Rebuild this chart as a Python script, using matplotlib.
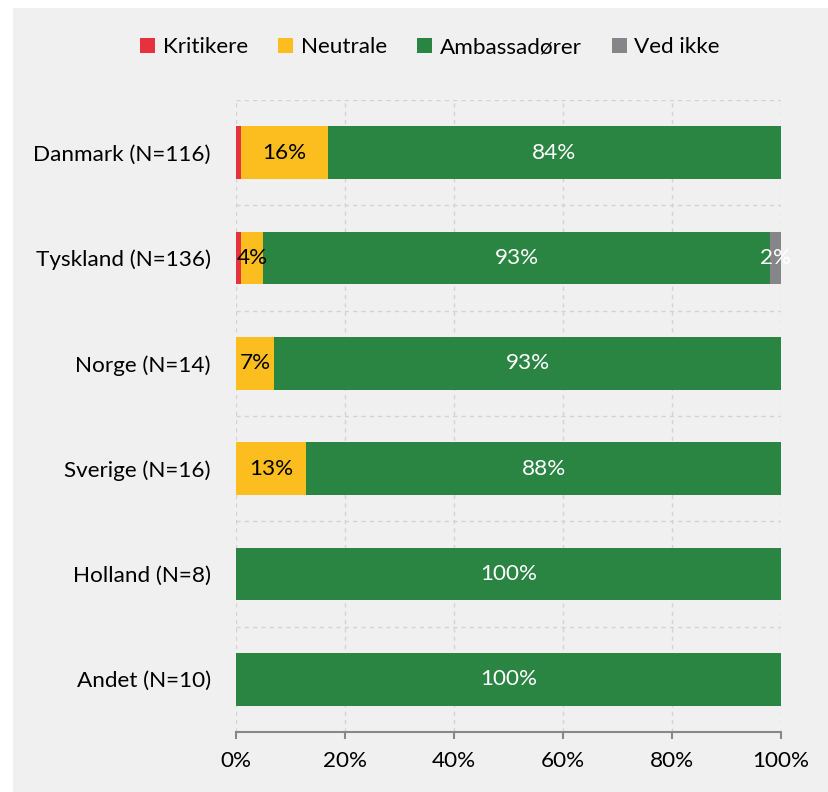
import numpy as np
import matplotlib.pyplot as plt
from matplotlib.patches import Rectangle, Patch

plt.rcParams['font.family'] = ['Lato', 'DejaVu Sans']

Lande = ['Danmark (N=116)', 'Tyskland (N=136)', 'Norge (N=14)',
         'Sverige (N=16)', 'Holland (N=8)', 'Andet (N=10)']
Kritikere = [1, 1, 0, 0, 0, 0]
Neutrale = [16, 4, 7, 13, 0, 0]
Ambassadorer = [84, 93, 93, 88, 100, 100]
VedIkke = [0, 2, 0, 0, 0, 0]

Serier = ['Kritikere', 'Neutrale', 'Ambassadører', 'Ved ikke']
Farver = ['#E6323F', '#FBBE1E', '#2A8442', '#86868A']
TekstFarver = [None, 'black', 'white', 'white']  # kritikere vises uden tal

data = np.array([Kritikere, Neutrale, Ambassadorer, VedIkke], dtype=float)
andel = data / data.sum(0)  # 100% stablet som i Excel

fs = 16.2

fig = plt.figure(figsize=(8.29, 7.92), dpi=100)
fig.patches.append(Rectangle((13 / 829, 0), 1, 1 - 8 / 792, transform=fig.transFigure,
                             facecolor='#F0F0F0', edgecolor='none', zorder=-10))
ax = fig.add_axes([236 / 829, 1 - 732 / 792, 545 / 829, 632 / 792])
ax.set_facecolor('none')

y = np.arange(len(Lande))
venstre = np.zeros(len(Lande))
for i in range(len(Serier)):
    ax.barh(y, andel[i], left=venstre, height=0.5, color=Farver[i], zorder=3)
    if TekstFarver[i] is not None:
        for j in range(len(Lande)):
            if data[i, j] > 0:
                ax.text(venstre[j] + andel[i, j] / 2, y[j], '%d%%' % data[i, j],
                        ha='center', va='center', color=TekstFarver[i],
                        fontsize=fs, zorder=4)
    venstre = venstre + andel[i]

ax.set_xlim(0, 1)
ax.set_ylim(len(Lande) - 0.5, -0.5)
ax.set_yticks(y)
ax.set_yticklabels(Lande, fontsize=fs)
ax.set_xticks(np.linspace(0, 1, 6))
ax.set_xticklabels(['0%', '20%', '40%', '60%', '80%', '100%'], fontsize=fs)
ax.tick_params(axis='y', length=0, pad=18)
ax.tick_params(axis='x', length=5, width=1.5, color='#888888', pad=9)

for k in ['top', 'left', 'right']:
    ax.spines[k].set_visible(False)
ax.spines['bottom'].set_color('#888888')
ax.spines['bottom'].set_linewidth(1.5)

for xv in np.linspace(0, 1, 6):
    ax.axvline(xv, color='#D3D3D3', linestyle=(0, (3, 3)), linewidth=1, zorder=1)
for yv in np.arange(-0.5, len(Lande) - 1, 1):
    ax.axhline(yv, color='#D3D3D3', linestyle=(0, (3, 3)), linewidth=1, zorder=1)

handles = [Patch(facecolor=c, edgecolor='none') for c in Farver]
fig.legend(handles, Serier, loc='center', bbox_to_anchor=(430 / 829, 1 - 47 / 792),
           ncol=4, frameon=False, fontsize=fs, handlelength=0.65, handleheight=0.65,
           handletextpad=0.35, columnspacing=1.35)

fig.savefig('out.png', dpi=100)
